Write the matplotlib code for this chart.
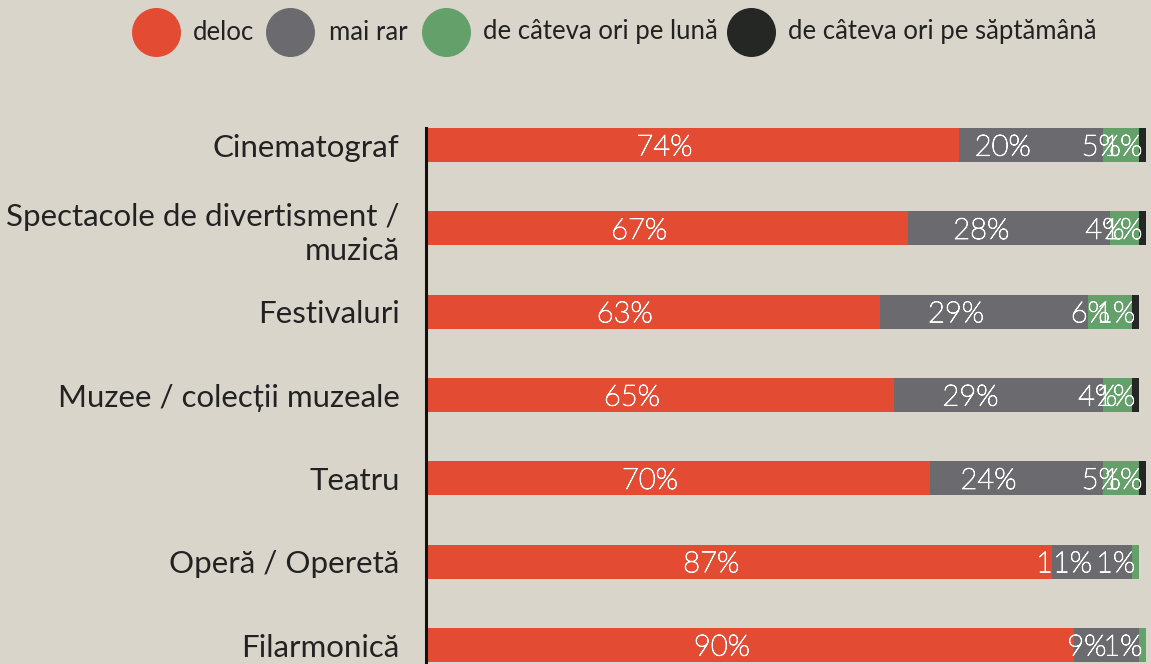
import matplotlib
matplotlib.use("Agg")
import matplotlib.pyplot as plt
import matplotlib.patheffects as pe
import numpy as np

# chart data
categories = [
    "Cinematograf",
    "Spectacole de divertisment /\nmuzică",
    "Festivaluri",
    "Muzee / colecții muzeale",
    "Teatru",
    "Operă / Operetă",
    "Filarmonică",
]
series_names = ["deloc", "mai rar", "de câteva ori pe lună", "de câteva ori pe săptămână"]
deloc = [74, 67, 63, 65, 70, 87, 90]
mai_rar = [20, 28, 29, 29, 24, 11, 9]
lunar = [5, 4, 6, 4, 5, 1, 1]
saptamanal = [1, 1, 1, 1, 1, 0, 0]

colors = ["#E34B33", "#6B6B6F", "#64A06A", "#252725"]
BG = "#D9D5CB"
TXT = "#222222"

plt.rcParams['font.family'] = ['Lato', 'DejaVu Sans']

fig = plt.figure(figsize=(11.51, 6.64), dpi=100, facecolor=BG)
W, H = 1151, 664
ax = fig.add_axes([426 / W, 0, 720 / W, 536 / H])
ax.set_facecolor(BG)

# thin white labels, slightly thickened so they read like Lato Light
thicken = [pe.withStroke(linewidth=0.7, foreground='white')]

y = np.arange(len(categories))
left = np.zeros(len(categories))
for vals, col, name in zip([deloc, mai_rar, lunar, saptamanal], colors, series_names):
    vals = np.array(vals, dtype=float)
    ax.barh(y, vals, left=left, height=0.41, color=col, label=name)
    for yi, l, v in zip(y, left, vals):
        if v > 0:
            # label sits with its right edge at the segment centre
            ax.text(l + v / 2, yi + 0.03, f"{int(v)}%", ha='right', va='center',
                    color='white', fontsize=21, fontweight='light',
                    path_effects=thicken)
    left += vals

ax.set_xlim(0, 100)
ax.set_ylim(6.228, -0.205)
ax.set_yticks(y)
ax.set_yticklabels(categories, fontsize=22.5, color=TXT, linespacing=1.28)
ax.tick_params(axis='y', length=0, pad=19)
ax.set_xticks([])
for s in ['top', 'right', 'bottom']:
    ax.spines[s].set_visible(False)
ax.spines['left'].set_linewidth(2.2)
ax.spines['left'].set_color('#111111')

# legend drawn by hand in pixel space: circle then label
lax = fig.add_axes([0, 0, 1, 1], facecolor='none')
lax.set_xlim(0, W)
lax.set_ylim(H, 0)
lax.axis('off')
circle_x = [156, 290, 446, 751]
text_x = [193, 329, 483, 788]
for cx, tx, col, name in zip(circle_x, text_x, colors, series_names):
    lax.scatter([cx], [32], s=(49 * 0.72) ** 2, color=col, linewidths=0)
    lax.text(tx, 32, name, ha='left', va='center', fontsize=18.5, color=TXT)

fig.savefig("out.png", dpi=100, facecolor=BG)
